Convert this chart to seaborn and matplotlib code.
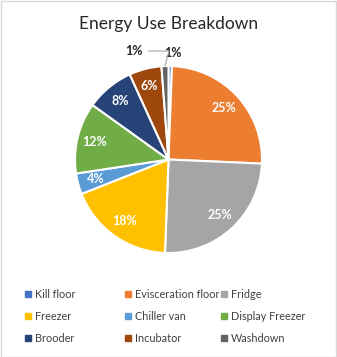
import matplotlib
matplotlib.use("Agg")
import matplotlib.pyplot as plt
import seaborn as sns
import numpy as np
from matplotlib.lines import Line2D

# Share of energy use per area (%)
areas = ["Kill floor", "Evisceration floor", "Fridge", "Freezer", "Chiller van",
         "Display Freezer", "Brooder", "Incubator", "Washdown"]
shares = [0.6, 25.1, 24.9, 18.4, 3.6, 12.3, 8.3, 5.6, 1.2]
colors = ["#4472C4", "#ED7D31", "#A5A5A5", "#FFC000", "#5B9BD5",
          "#70AD47", "#264478", "#9E480E", "#636363"]

sns.set_theme(style="white")
plt.rcParams["font.family"] = ["Lato", "DejaVu Sans"]

W, H = 337, 357
fig = plt.figure(figsize=(W / 100, H / 100), dpi=100)
fig.patch.set_facecolor("white")

# pie axes: centre and radius in pixels
cx, cy, r = 168.5, 159.5, 93.5
ax = fig.add_axes([(cx - r) / W, 1 - (cy + r) / H, 2 * r / W, 2 * r / H])
ax.axis("off")

pal = sns.color_palette(colors)
total = sum(shares)


def inside_label(pct):
    return f"{pct:.0f}%" if pct >= 2 else ""


wedges, _, autotexts = ax.pie(
    shares, colors=pal, startangle=90, counterclock=False, radius=1,
    autopct=inside_label, pctdistance=0.81,
    wedgeprops=dict(edgecolor="white", linewidth=1.5),
    textprops=dict(color="white", fontsize=9, fontweight="bold"),
)
ax.set_xlim(-1, 1)
ax.set_ylim(-1, 1)
ax.set_aspect("equal")

# small slices get their labels outside the pie
for w, name, v in zip(wedges, areas, shares):
    if name not in ("Kill floor", "Washdown"):
        continue
    mid = np.deg2rad((w.theta1 + w.theta2) / 2)
    px, py = np.cos(mid), np.sin(mid)
    lab = f"{100 * v / total:.0f}%"
    if name == "Kill floor":
        ax.text(px * 1.14 + 0.03, py * 1.14, lab, ha="center", va="center",
                fontsize=9, fontweight="bold", color="#262626")
    else:
        ax.annotate(lab, xy=(px, py), xytext=(px - 0.24, 1.16),
                    ha="right", va="center", fontsize=9, fontweight="bold",
                    color="#262626",
                    arrowprops=dict(arrowstyle="-", color="#A6A6A6", lw=0.8,
                                    shrinkA=2, shrinkB=0,
                                    connectionstyle="angle,angleA=0,angleB=75,rad=0"))

fig.text(cx / W, 1 - 24 / H, "Energy Use Breakdown", ha="center", va="center",
         fontsize=12.5, color="#262626")

# legend laid out row by row in three fixed-width columns
col_x = [24.5, 124.5, 220.5]
for ci, x0 in enumerate(col_x):
    idx = list(range(ci, len(areas), 3))
    handles = [Line2D([], [], marker="s", linestyle="none", markersize=4.5,
                      markerfacecolor=pal[i], markeredgecolor=pal[i]) for i in idx]
    leg = fig.legend(handles, [areas[i] for i in idx], loc="upper left",
                     bbox_to_anchor=(x0 / W, 1 - 289 / H), frameon=False,
                     fontsize=7.8, handlelength=0.6, handletextpad=0.35,
                     labelspacing=1.02, borderpad=0, borderaxespad=0)
    for t in leg.get_texts():
        t.set_color("#404040")

# chart area border
fig.add_artist(plt.Rectangle((0.5 / W, 0.5 / H), 1 - 1.5 / W, 1 - 1.5 / H,
                             transform=fig.transFigure, fill=False,
                             edgecolor="#D9D9D9", linewidth=1))

fig.savefig("out.png", dpi=100, facecolor="white")
